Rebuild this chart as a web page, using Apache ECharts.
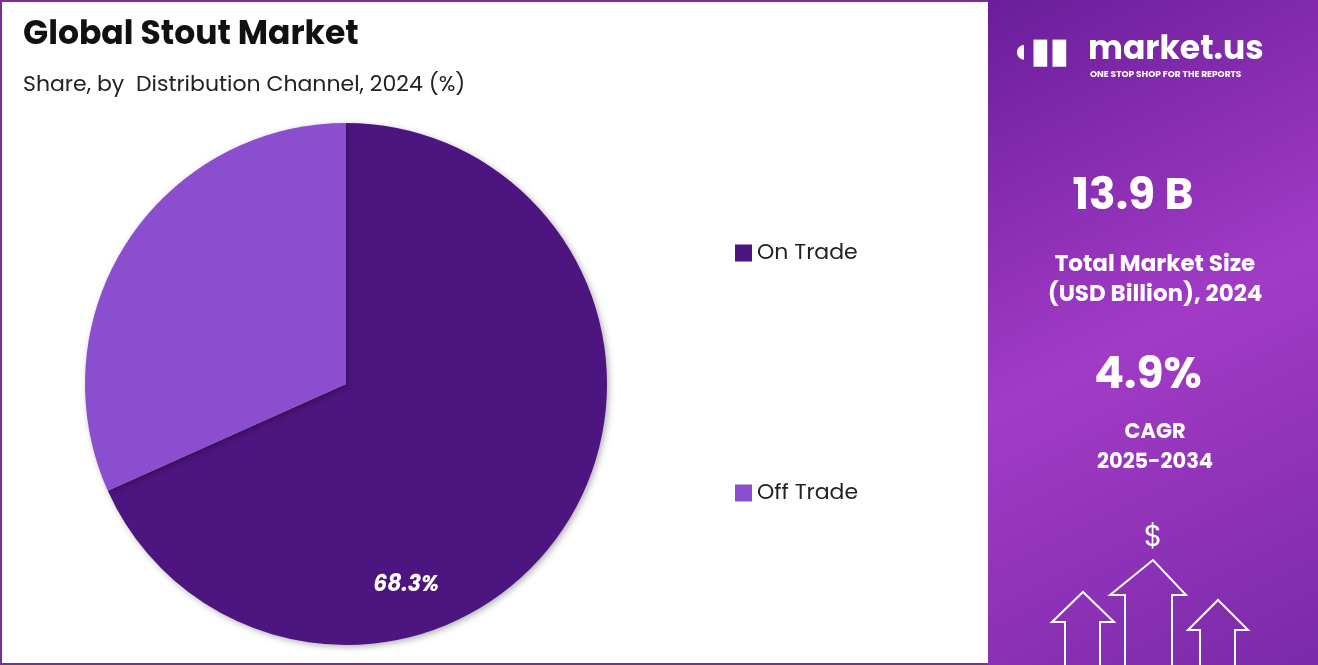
<!DOCTYPE html>
<html><head><meta charset="utf-8">
<script src="https://cdn.jsdelivr.net/npm/echarts@6/dist/echarts.min.js"></script>
<style>html,body{margin:0;padding:0;background:#fff}#c{width:1318px;height:665px}</style>
</head><body><div id="c"></div>
<script>
const categories = ["On Trade", "Off Trade"];
const values = [68.3, 31.7];
const colors = ["#4D157F", "#8A4ECF"];
const marketSize = "13.9 B";
const cagr = "4.9%";

const chart = echarts.init(document.getElementById('c'));
const F = 'Poppins, "Open Sans", Lato, sans-serif';
chart.setOption({
  animation: false,
  graphic: [
    {type:'rect', shape:{x:1,y:1,width:1316,height:663}, style:{fill:'none', stroke:'#7B2D9C', lineWidth:2}},
    {type:'rect', shape:{x:988,y:0,width:330,height:665}, style:{fill:new echarts.graphic.LinearGradient(0,0,1,1,[{offset:0,color:'#6A1E9A'},{offset:0.5,color:'#A23BC6'},{offset:1,color:'#7A2AA8'}])}},
    {type:'text', left:1010, top:36, style:{text:'◖▮▮', fill:'#fff', font:'bold 34px '+F}},
    {type:'text', left:1088, top:34, style:{text:'market.us', fill:'#fff', font:'bold 33px '+F}},
    {type:'text', left:1090, top:70, style:{text:'ONE STOP SHOP FOR THE REPORTS', fill:'#fff', font:'bold 9px '+F}},
    {type:'text', x:1133, y:198, style:{text:marketSize, fill:'#fff', font:'bold 44px '+F, align:'center', verticalAlign:'middle'}},
    {type:'text', x:1155, y:280, style:{text:'Total Market Size\n(USD Billion), 2024', fill:'#fff', font:'bold 23px '+F, align:'center', verticalAlign:'middle', lineHeight:30}},
    {type:'text', x:1148, y:377, style:{text:cagr, fill:'#fff', font:'bold 44px '+F, align:'center', verticalAlign:'middle'}},
    {type:'text', x:1155, y:448, style:{text:'CAGR\n2025-2034', fill:'#fff', font:'bold 21px '+F, align:'center', verticalAlign:'middle', lineHeight:30}},
    {type:'text', x:1153, y:538, style:{text:'$', fill:'#fff', font:'30px '+F, align:'center', verticalAlign:'middle'}},
    {type:'polyline', shape:{points:[[1125,665],[1125,595],[1110,595],[1153,560],[1186,595],[1172,595],[1172,665]]}, style:{fill:'none', stroke:'#fff', lineWidth:2}},
    {type:'polyline', shape:{points:[[1065,665],[1065,622],[1052,622],[1083,592],[1114,622],[1100,622],[1100,665]]}, style:{fill:'none', stroke:'#fff', lineWidth:2}},
    {type:'polyline', shape:{points:[[1200,665],[1200,630],[1188,630],[1218,600],[1248,630],[1235,630],[1235,665]]}, style:{fill:'none', stroke:'#fff', lineWidth:2}}
  ],
  title: {text:'Global Stout Market', subtext:'Share, by  Distribution Channel, 2024 (%)', left:18, top:14,
    textStyle:{fontSize:33, fontWeight:'bold', color:'#111', fontFamily:F},
    subtextStyle:{fontSize:22, color:'#222', fontFamily:F}, itemGap:22},
  legend: {orient:'vertical', left:730, top:237, itemGap:218, itemWidth:17, itemHeight:17, icon:'rect',
    data: categories, textStyle:{fontSize:22, color:'#222', fontFamily:F}},
  series: [{
    type:'pie', center:[346,384], radius:261, startAngle:90, clockwise:true,
    itemStyle:{shadowBlur:6, shadowColor:'rgba(0,0,0,0.3)', shadowOffsetX:2, shadowOffsetY:2},
    label:{show:true, position:'inside', formatter:(p)=>p.dataIndex===0?p.value+'%':'', color:'#fff', fontSize:22, fontStyle:'italic', fontWeight:'bold', fontFamily:F, offset:[-52,129]},
    labelLine:{show:false},
    data: categories.map((c,i)=>({name:c, value:values[i], itemStyle:{color:colors[i]}}))
  }]
});
</script></body></html>
